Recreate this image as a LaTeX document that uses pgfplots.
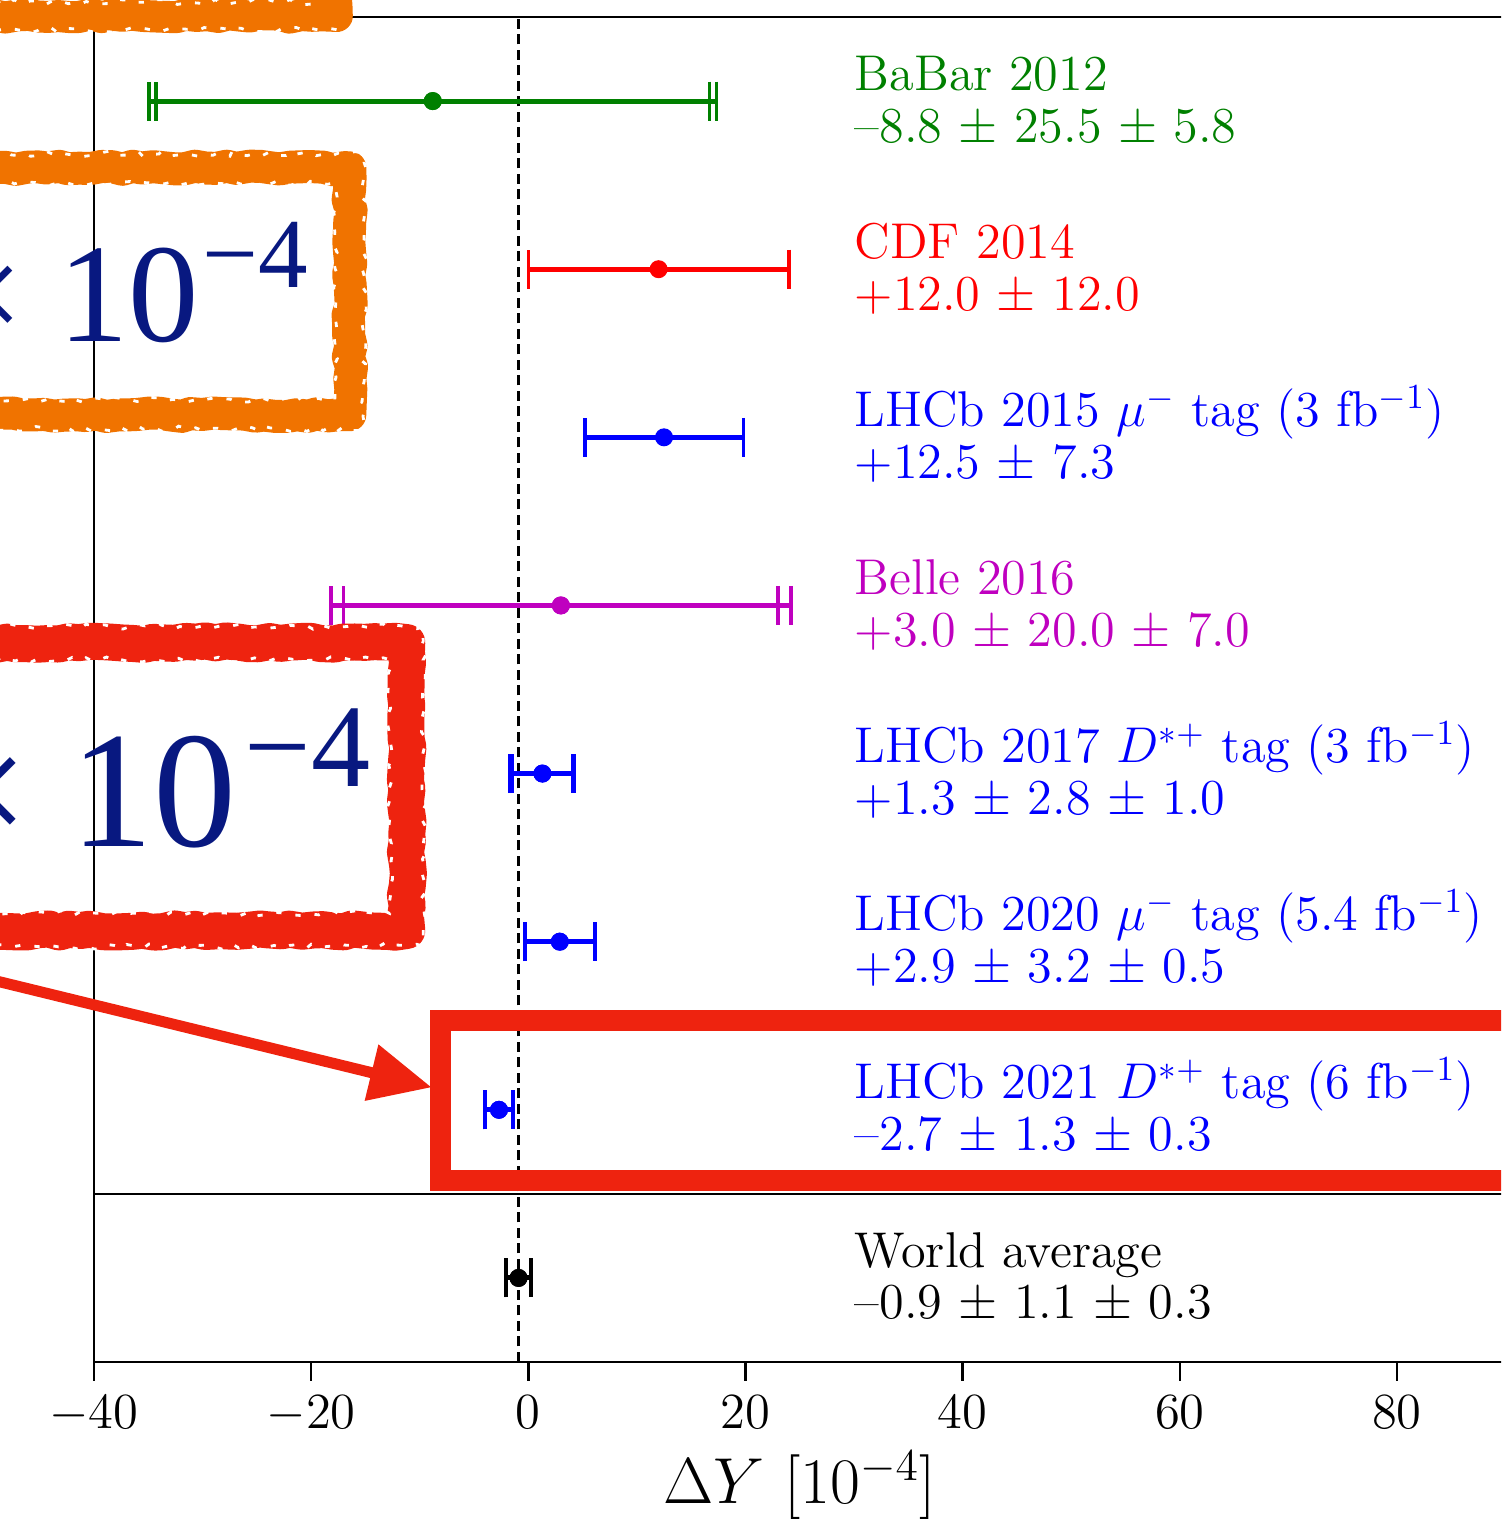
\documentclass[border=0pt]{standalone}
\usepackage{fix-cm}
\usepackage{fontspec}
\newfontfamily\timesf{Liberation Serif}
\usepackage{pgfplots}
\pgfplotsset{compat=1.18}
\usetikzlibrary{decorations.pathmorphing, arrows.meta}
\definecolor{mgreen}{RGB}{0,128,0}
\definecolor{mred}{RGB}{255,0,0}
\definecolor{mblue}{RGB}{0,0,255}
\definecolor{mmag}{RGB}{191,0,191}
\definecolor{navytext}{RGB}{8,24,128}
\definecolor{anorange}{RGB}{240,115,0}
\definecolor{anred}{RGB}{238,35,15}
\pgfplotsset{
  eb/.style={only marks, mark=*, mark size=1.85pt, line width=1.4pt,
    error bars/.cd, x dir=both, x explicit,
    error bar style={line width=1.4pt},
    error mark options={rotate=90, line width=1pt, mark size=0.195cm}},
}
\newcommand{\lfont}{\fontsize{14.3}{16}\selectfont}
\tikzset{rough/.style={line join=round, decorate,
  decoration={random steps, segment length=3pt, amplitude=0.5pt}},
  speck/.style={white, line width=0.8pt, dash pattern=on 1.5pt off 4pt, decorate,
  decoration={random steps, segment length=2pt, amplitude=0.8pt}}}
\begin{document}
\begin{tikzpicture}
\useasboundingbox (0,0) rectangle (15.01,15.19);
\clip (0,0) rectangle (15.01,15.19);
\begin{axis}[
  at={(0.94cm,1.57cm)}, anchor=south west,
  scale only axis, width=14.115cm, height=13.45cm,
  xmin=-40, xmax=90, ymin=-0.5, ymax=7.5,
  ytick=\empty, xtick={-40,-20,0,20,40,60,80},
  xtick pos=bottom, tick align=outside, major tick length=0.19cm,
  axis line style={line width=0.7pt},
  every tick/.style={black, line width=0.7pt},
  tick label style={font=\fontsize{14.4}{17}\selectfont},
  xticklabel style={anchor=base, yshift=-0.48cm},
  xlabel={$\Delta Y$ $[10^{-4}]$},
  xlabel style={font=\fontsize{18.5}{21}\selectfont, at={(axis description cs:0.5,0)}, anchor=base, yshift=-1.42cm},
]
% reference lines
\addplot[black, line width=0.7pt] coordinates {(-40,0.5) (90,0.5)};
\addplot[black, line width=0.7pt, dash pattern=on 0.1cm off 0.055cm] coordinates {(-0.9,-0.5) (-0.9,7.5)};
% BaBar 2012
\addplot[mgreen, eb] coordinates {(-8.8,7) +- (26.15,0)};
\addplot[mgreen, eb] coordinates {(-8.8,7) +- (25.5,0)};
% CDF 2014
\addplot[mred, eb] coordinates {(12.0,6) +- (12.0,0)};
% LHCb 2015
\addplot[mblue, eb] coordinates {(12.5,5) +- (7.3,0)};
% Belle 2016
\addplot[mmag, eb] coordinates {(3.0,4) +- (21.19,0)};
\addplot[mmag, eb] coordinates {(3.0,4) +- (20.0,0)};
% LHCb 2017
\addplot[mblue, eb] coordinates {(1.3,3) +- (2.97,0)};
\addplot[mblue, eb] coordinates {(1.3,3) +- (2.8,0)};
% LHCb 2020
\addplot[mblue, eb] coordinates {(2.9,2) +- (3.24,0)};
\addplot[mblue, eb] coordinates {(2.9,2) +- (3.2,0)};
% LHCb 2021
\addplot[mblue, eb] coordinates {(-2.7,1) +- (1.33,0)};
\addplot[mblue, eb] coordinates {(-2.7,1) +- (1.3,0)};
% World average
\addplot[black, eb] coordinates {(-0.9,0) +- (1.14,0)};
\addplot[black, eb] coordinates {(-0.9,0) +- (1.1,0)};
% labels
\begin{scope}[every node/.style={anchor=base west, inner sep=0pt, font=\lfont}]
\node[text=mgreen] at (axis cs:30,7.065) {BaBar 2012};
\node[text=mgreen] at (axis cs:30,6.756) {--8.8 $\pm$ 25.5 $\pm$ 5.8};
\node[text=mred] at (axis cs:30,6.065) {CDF 2014};
\node[text=mred] at (axis cs:30,5.756) {+12.0 $\pm$ 12.0};
\node[text=mblue] at (axis cs:30,5.065) {LHCb 2015 $\mu^-$ tag (3 fb$^{-1}$)};
\node[text=mblue] at (axis cs:30,4.756) {+12.5 $\pm$ 7.3};
\node[text=mmag] at (axis cs:30,4.065) {Belle 2016};
\node[text=mmag] at (axis cs:30,3.756) {+3.0 $\pm$ 20.0 $\pm$ 7.0};
\node[text=mblue] at (axis cs:30,3.065) {LHCb 2017 $D^{*+}$ tag (3 fb$^{-1}$)};
\node[text=mblue] at (axis cs:30,2.756) {+1.3 $\pm$ 2.8 $\pm$ 1.0};
\node[text=mblue] at (axis cs:30,2.065) {LHCb 2020 $\mu^-$ tag (5.4 fb$^{-1}$)};
\node[text=mblue] at (axis cs:30,1.756) {+2.9 $\pm$ 3.2 $\pm$ 0.5};
\node[text=mblue] at (axis cs:30,1.065) {LHCb 2021 $D^{*+}$ tag (6 fb$^{-1}$)};
\node[text=mblue] at (axis cs:30,0.756) {--2.7 $\pm$ 1.3 $\pm$ 0.3};
\node[text=black] at (axis cs:30,0.065) {World average};
\node[text=black] at (axis cs:30,-0.244) {--0.9 $\pm$ 1.1 $\pm$ 0.3};
\end{scope}
\end{axis}
% annotations (pixel coordinates, y downward from top)
\begin{scope}[shift={(0,15.19)}, x=0.01cm, y=-0.01cm]
\draw[anorange, line width=0.32cm, rough] (-300,16) -- (337,16) -- (337,-300);
\draw[speck] (-300,2) -- (324,2);
\draw[speck] (-300,30) -- (351,30);
\draw[anorange, line width=0.33cm, rough] (-300,168) -- (350,168) -- (350,415) -- (-300,415);
\draw[speck] (-300,183) -- (335,183) -- (335,400) -- (-300,400);
\draw[speck] (-300,154) -- (364,154) -- (364,429) -- (-300,429);
\draw[anred, line width=0.37cm, rough] (-300,643) -- (407,643) -- (407,931) -- (-300,931);
\draw[speck] (-300,660) -- (390,660) -- (390,914) -- (-300,914);
\draw[speck] (-300,627) -- (424,627) -- (424,947) -- (-300,947);
% big annotation text
\node[navytext, anchor=base east, inner sep=0pt, font=\timesf\fontsize{40}{48}\selectfont] at (200,342) {× 10};
\node[navytext, anchor=base west, inner sep=0pt, font=\timesf\fontsize{28.2}{34}\selectfont] at (202,288) {−4};
\node[navytext, anchor=base east, inner sep=0pt, font=\timesf\fontsize{47.2}{56}\selectfont] at (237,847) {× 10};
\node[navytext, anchor=base west, inner sep=0pt, font=\timesf\fontsize{33.6}{40}\selectfont] at (244,787) {−4};
\draw[anred, line width=0.11cm, -{Triangle[length=0.62cm, width=0.55cm]}] (-10,980) -- (432,1088);
\draw[anred, line width=0.21cm] (1700,1021.5) -- (440.5,1021.5) -- (440.5,1181.5) -- (1700,1181.5);
\end{scope}
\end{tikzpicture}
\end{document}
